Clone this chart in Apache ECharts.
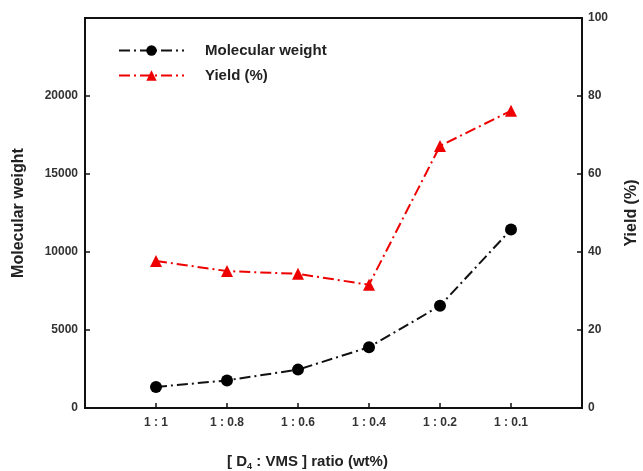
<!DOCTYPE html>
<html>
<head>
<meta charset="utf-8">
<script src="https://cdn.jsdelivr.net/npm/echarts@6/dist/echarts.min.js"></script>
<style>html,body{margin:0;padding:0;background:#fff;}#c{width:643px;height:471px;}</style>
</head>
<body>
<div id="c"></div>
<script>
var categories = ['1 : 1', '1 : 0.8', '1 : 0.6', '1 : 0.4', '1 : 0.2', '1 : 0.1'];
var molecularWeight = [1350, 1770, 2460, 3900, 6550, 11440];
var yieldPct = [37.7, 35.1, 34.4, 31.6, 67.2, 76.2];
var leftTicks = [0, 5000, 10000, 15000, 20000];
var rightTicks = [0, 20, 40, 60, 80, 100];

var xData = [''].concat(categories).concat(['']);
var mwData = [null].concat(molecularWeight).concat([null]);
var yData = [null].concat(yieldPct).concat([null]);

var font = 'Liberation Sans, Arial, sans-serif';
var chart = echarts.init(document.getElementById('c'), null, {renderer: 'canvas'});
chart.setOption({
  animation: false,
  backgroundColor: '#fff',
  grid: {left: 85, right: 61, top: 18, bottom: 63, containLabel: false, outerBoundsMode: 'none',
    show: true, borderColor: '#111', borderWidth: 2, backgroundColor: 'transparent'},
  legend: {
    orient: 'vertical', left: 113, top: 38, itemWidth: 65, itemHeight: 13, itemGap: 10,
    textStyle: {fontFamily: font, fontWeight: 'bold', fontSize: 15, color: '#222', padding: [0, 0, 0, 16]},
    data: ['Molecular weight', 'Yield (%)']
  },
  xAxis: {
    type: 'category', data: xData, boundaryGap: false,
    axisLine: {lineStyle: {color: '#111', width: 2}},
    axisTick: {inside: true, length: 5, lineStyle: {color: '#111', width: 1.5},
      interval: function (i) { return i > 0 && i < xData.length - 1; }},
    axisLabel: {fontFamily: font, fontWeight: 'bold', fontSize: 12, color: '#333', margin: 9,
      interval: 0},
    splitLine: {show: false},
    name: '{a|[ D}{s|4}{a| : VMS ] ratio (wt%)}', nameLocation: 'middle', nameGap: 44,
    nameTextStyle: {padding: [0, 52, 0, 0],
      rich: {a: {fontFamily: font, fontWeight: 'bold', fontSize: 15, color: '#222'},
             s: {fontFamily: font, fontWeight: 'bold', fontSize: 9, color: '#222', padding: [10, 0, 0, 0]}}}
  },
  yAxis: [{
    type: 'value', min: 0, max: 25000, interval: 5000,
    axisLine: {show: true, lineStyle: {color: '#111', width: 2}},
    axisTick: {show: true, inside: true, length: 5, lineStyle: {color: '#111', width: 1.5}},
    axisLabel: {fontFamily: font, fontWeight: 'bold', fontSize: 12, color: '#333', margin: 7,
      formatter: function (v) { return leftTicks.indexOf(v) >= 0 ? String(v) : ''; }},
    splitLine: {show: false},
    name: 'Molecular weight', nameLocation: 'middle', nameGap: 58, nameRotate: 90,
    nameTextStyle: {fontFamily: font, fontWeight: 'bold', fontSize: 16, color: '#222'}
  }, {
    type: 'value', min: 0, max: 100, interval: 20, position: 'right',
    axisLine: {show: true, lineStyle: {color: '#111', width: 2}},
    axisTick: {show: true, inside: true, length: 5, lineStyle: {color: '#111', width: 1.5}},
    axisLabel: {fontFamily: font, fontWeight: 'bold', fontSize: 12, color: '#333', margin: 6,
      formatter: function (v) { return rightTicks.indexOf(v) >= 0 ? String(v) : ''; }},
    splitLine: {show: false},
    name: 'Yield (%)', nameLocation: 'middle', nameGap: 42, nameRotate: 90,
    nameTextStyle: {fontFamily: font, fontWeight: 'bold', fontSize: 16, color: '#222'}
  }],
  series: [{
    name: 'Molecular weight', type: 'line', yAxisIndex: 0, data: mwData,
    symbol: 'circle', symbolSize: 12, showAllSymbol: true,
    lineStyle: {color: '#111', width: 2, type: [11, 4, 2, 4]},
    itemStyle: {color: '#000'}
  }, {
    name: 'Yield (%)', type: 'line', yAxisIndex: 1, data: yData,
    symbol: 'triangle', symbolSize: 12, showAllSymbol: true,
    lineStyle: {color: '#ee0000', width: 2, type: [11, 4, 2, 4]},
    itemStyle: {color: '#ee0000'}
  }]
});
</script>
</body>
</html>
